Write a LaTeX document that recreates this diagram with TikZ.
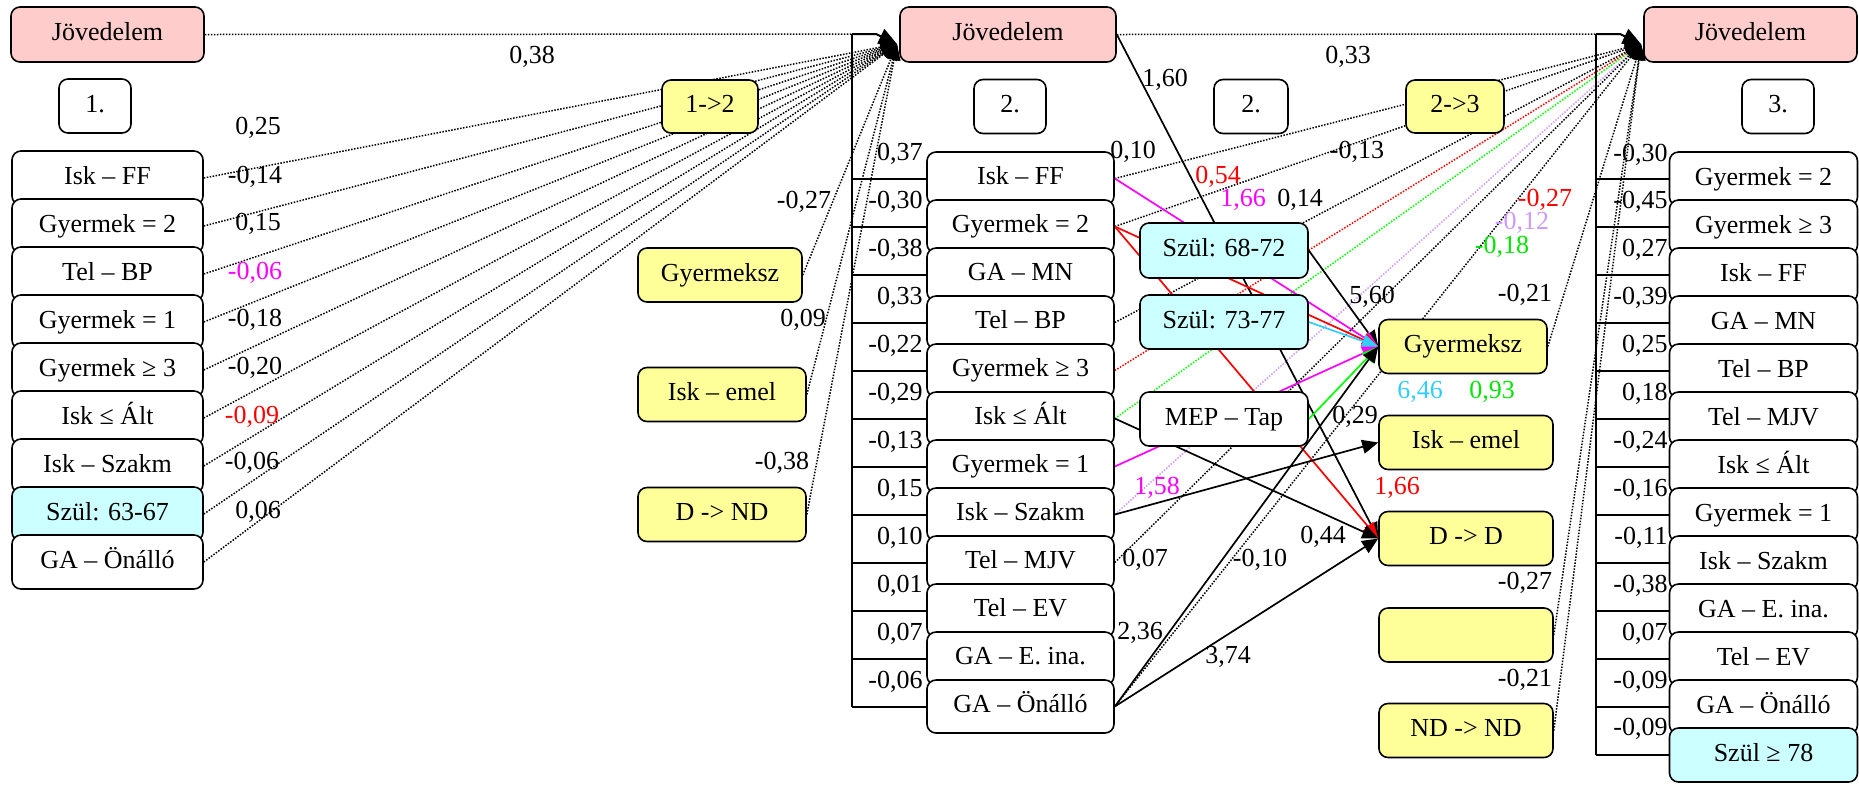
\documentclass[tikz,border=0pt]{standalone}
\usepackage{fontspec}
\setmainfont{Liberation Serif}
\usetikzlibrary{arrows.meta,backgrounds}

\definecolor{incfill}{HTML}{FFCCCC}
\definecolor{cohfill}{HTML}{CCFFFF}
\definecolor{trfill}{HTML}{FFFF99}
\definecolor{lav}{HTML}{CC99FF}
\definecolor{sky}{HTML}{33CCFF}
\definecolor{lime}{HTML}{00FF00}
\definecolor{limetext}{HTML}{00E600}
\definecolor{mag}{HTML}{FF00FF}

\begin{document}
\begin{tikzpicture}[x=0.5pt,y=-0.5pt,
  font=\fontsize{13}{15}\selectfont,
  box/.style={draw, line width=0.8pt, rounded corners=4.5pt, fill=white,
    inner sep=0pt, text height=9pt, text depth=2.8pt, minimum height=27pt},
  col1/.style={box, minimum width=95.5pt},
  col2/.style={box, minimum width=93.5pt, minimum height=26.5pt},
  col3/.style={box, minimum width=94pt},
  mid/.style={box, minimum width=84pt},
  income/.style={box, fill=incfill, minimum height=27.5pt},
  cohort/.style={fill=cohfill},
  trans/.style={fill=trfill},
  wave/.style={box, minimum width=36pt},
  lbl/.style={inner sep=0pt},
  brk/.style={line width=1pt},
  dot/.style={line width=0.75pt, dash pattern=on 0.75pt off 0.75pt},
  dtip/.style={-{Triangle[length=8pt,width=6.5pt]}},
  sol/.style={line width=0.85pt, -{Triangle[length=8pt,width=7pt]}},
]
\useasboundingbox (0,0) rectangle (1859,784);

% ---------- wave 1 ----------
\node[income, minimum width=96.5pt] (j1) at (107.5,34.5) {Jövedelem};
\node[wave] (w1) at (95,106) {1.};
\node[col1] (a1) at (107.5,178) {Isk – FF};
\node[col1] (a2) at (107.5,226) {Gyermek = 2};
\node[col1] (a3) at (107.5,274) {Tel – BP};
\node[col1] (a4) at (107.5,322) {Gyermek = 1};
\node[col1] (a5) at (107.5,370) {Gyermek ≥ 3};
\node[col1] (a6) at (107.5,418) {Isk ≤ Ált};
\node[col1] (a7) at (107.5,466) {Isk – Szakm};
\node[col1, cohort] (a8) at (107.5,514) {Szül: 63-67};
\node[col1] (a9) at (107.5,562) {GA – Önálló};

% ---------- transition 1->2 ----------
\node[box, trans, minimum width=48pt, minimum height=26.5pt] (t12) at (710,106.5) {1->2};
\node[box, trans, minimum width=82pt] (gyL) at (720,275) {Gyermeksz};
\node[box, trans, minimum width=84pt] (ieL) at (722,394.5) {Isk – emel};
\node[box, trans, minimum width=84pt] (dnd) at (722,514.5) {D -> ND};

% ---------- wave 2 ----------
\node[income, minimum width=108pt] (j2) at (1008,34.5) {Jövedelem};
\node[wave] (w2) at (1010,106.5) {2.};
\node[col2] (b1) at (1020.5,178.5) {Isk – FF};
\node[col2] (b2) at (1020.5,226.5) {Gyermek = 2};
\node[col2] (b3) at (1020.5,274.5) {GA – MN};
\node[col2] (b4) at (1020.5,322.5) {Tel – BP};
\node[col2] (b5) at (1020.5,370.5) {Gyermek ≥ 3};
\node[col2] (b6) at (1020.5,418.5) {Isk ≤ Ált};
\node[col2] (b7) at (1020.5,466.5) {Gyermek = 1};
\node[col2] (b8) at (1020.5,514.5) {Isk – Szakm};
\node[col2] (b9) at (1020.5,562.5) {Tel – MJV};
\node[col2] (b10) at (1020.5,610.5) {Tel – EV};
\node[col2] (b11) at (1020.5,658.5) {GA – E. ina.};
\node[col2] (b12) at (1020.5,706.5) {GA – Önálló};

% ---------- transition 2->3 ----------
\node[wave, minimum width=37pt] (w2b) at (1251,106.5) {2.};
\node[box, trans, minimum width=49pt, minimum height=26.5pt] (t23) at (1455,106.5) {2->3};
\node[mid, cohort, minimum height=27.5pt] (s1) at (1224,250.5) {Szül: 68-72};
\node[mid, cohort] (s2) at (1224,322) {Szül: 73-77};
\node[mid] (mep) at (1224,419) {MEP – Tap};
\node[mid, trans] (gyR) at (1463,346.5) {Gyermeksz};
\node[box, trans, minimum width=87pt] (ieR) at (1466,442.5) {Isk – emel};
\node[box, trans, minimum width=87pt] (dd) at (1466,538.5) {D -> D};
\node[box, trans, minimum width=87pt] (emp) at (1466,635) {};
\node[box, trans, minimum width=87pt] (ndnd) at (1466,730.5) {ND -> ND};

% ---------- wave 3 ----------
\node[income, minimum width=106.5pt] (j3) at (1750.5,34.5) {Jövedelem};
\node[wave] (w3) at (1778,106.5) {3.};
\node[col3] (c1) at (1763.5,179) {Gyermek = 2};
\node[col3] (c2b) at (1763.5,227) {Gyermek ≥ 3};
\node[col3] (c3b) at (1763.5,275) {Isk – FF};
\node[col3] (c4) at (1763.5,323) {GA – MN};
\node[col3] (c5) at (1763.5,371) {Tel – BP};
\node[col3] (c6) at (1763.5,419) {Tel – MJV};
\node[col3] (c7) at (1763.5,467) {Isk ≤ Ált};
\node[col3] (c8) at (1763.5,515) {Gyermek = 1};
\node[col3] (c9) at (1763.5,563) {Isk – Szakm};
\node[col3] (c10) at (1763.5,611) {GA – E. ina.};
\node[col3] (c11) at (1763.5,659) {Tel – EV};
\node[col3] (c12) at (1763.5,707) {GA – Önálló};
\node[col3, cohort] (c13) at (1763.5,755) {Szül ≥ 78};

% join points of the brackets
\coordinate (br2top) at (852,34);
\coordinate (br2bend) at (876,34);
\coordinate (in2) at (897,44);
\coordinate (br3top) at (1596,34);
\coordinate (br3bend) at (1620,34);
\coordinate (in3) at (1641,44);

\begin{pgfonlayer}{background}
  % effects on wave-2 income
  \draw[dot] (j1.east) -- (br2top);
  \foreach \n in {a1,a2,a3,a4,a5,a6,a7,a8,a9,gyL,ieL,dnd}
    \draw[dot,dtip] (\n.east) -- (in2);
  % wave-2 bracket
  \draw[brk] (br2top) -- (br2top |- b12.west);
  \foreach \k in {1,...,12}
    \draw[brk] (b\k.west) -- (b\k.west -| br2top);
  \draw[brk,-{Triangle[length=9pt,width=8pt]}] (br2top) -- (br2bend) -- (in2);

  % effects on wave-3 income (coloured ones first, black heads on top)
  \draw[dot] (j2.east) -- (br3top);
  \draw[dot,dtip,red] (b5.east) -- (in3);
  \draw[dot,dtip,lime] (b6.east) -- (in3);
  \draw[dot,dtip,lav] (b8.east) -- (in3);
  \foreach \n in {b1,b2,b4,b9,b12,gyR,emp,ndnd}
    \draw[dot,dtip] (\n.east) -- (in3);
  % wave-3 bracket
  \draw[brk] (br3top) -- (br3top |- c13.west);
  \foreach \n in {c1,c2b,c3b,c4,c5,c6,c7,c8,c9,c10,c11,c12,c13}
    \draw[brk] (\n.west) -- (\n.west -| br3top);
  \draw[brk,-{Triangle[length=9pt,width=8pt]}] (br3top) -- (br3bend) -- (in3);

  % transition effects
  \draw[sol] (j2.east) -- (dd.west);
  \draw[sol,red] (b2.east) -- (dd.west);
  \draw[sol] (b6.east) -- (dd.west);
  \draw[sol] (b12.east) -- (dd.west);
  \draw[sol] (b8.east) -- (ieR.west);
  \draw[sol] (s1.east) -- (gyR.west);
  \draw[sol,mag] (b1.east) -- (gyR.west);
  \draw[sol,red] (b2.east) -- (gyR.west);
  \draw[sol,sky] (s2.east) -- (gyR.west);
  \draw[sol,mag] (b7.east) -- (gyR.west);
  \draw[sol,lime] (mep.east) -- (gyR.west);
  \draw[sol] (b12.east) -- (gyR.west);
\end{pgfonlayer}

% ---------- coefficients, wave 1 -> 2 ----------
\node[lbl] (k01) at (532,57) {0,38};
\node[lbl] (k02) at (258,128) {0,25};
\node[lbl] (k03) at (255,177) {-0,14};
\node[lbl] (k04) at (258,224) {0,15};
\node[lbl, text=mag] (k05) at (255,273) {-0,06};
\node[lbl] (k06) at (255,320) {-0,18};
\node[lbl] (k07) at (255,368) {-0,20};
\node[lbl, text=red] (k08) at (252,417) {-0,09};
\node[lbl] (k09) at (252,463) {-0,06};
\node[lbl] (k10) at (258,512) {0,06};
\node[lbl] (k11) at (804,202) {-0,27};
\node[lbl] (k12) at (803,320) {0,09};
\node[lbl] (k13) at (782,463) {-0,38};

% ---------- coefficients at the wave-2 bracket ----------
\node[lbl, anchor=east] (m01) at (923,154) {0,37};
\node[lbl, anchor=east] (m02) at (923,202) {-0,30};
\node[lbl, anchor=east] (m03) at (923,250) {-0,38};
\node[lbl, anchor=east] (m04) at (923,298) {0,33};
\node[lbl, anchor=east] (m05) at (923,346) {-0,22};
\node[lbl, anchor=east] (m06) at (923,394) {-0,29};
\node[lbl, anchor=east] (m07) at (923,442) {-0,13};
\node[lbl, anchor=east] (m08) at (923,490) {0,15};
\node[lbl, anchor=east] (m09) at (923,538) {0,10};
\node[lbl, anchor=east] (m10) at (923,586) {0,01};
\node[lbl, anchor=east] (m11) at (923,634) {0,07};
\node[lbl, anchor=east] (m12) at (923,682) {-0,06};

% ---------- coefficients, wave 2 -> 3 ----------
\node[lbl] (r01) at (1348,57) {0,33};
\node[lbl] (r02) at (1165,80) {1,60};
\node[lbl] (r03) at (1133,152) {0,10};
\node[lbl] (r04) at (1357,152) {-0,13};
\node[lbl, text=red] (r05) at (1218,177) {0,54};
\node[lbl, text=mag] (r06) at (1243,200) {1,66};
\node[lbl] (r07) at (1300,200) {0,14};
\node[lbl, text=red] (r08) at (1545,200) {-0,27};
\node[lbl, text=lav] (r09) at (1522,223) {-0,12};
\node[lbl, text=limetext] (r10) at (1502,247) {-0,18};
\node[lbl] (r11) at (1525,295) {-0,21};
\node[lbl] (r12) at (1372,297) {5,60};
\node[lbl, text=sky] (r13) at (1420,392) {6,46};
\node[lbl, text=limetext] (r14) at (1492,392) {0,93};
\node[lbl] (r15) at (1355,417) {0,29};
\node[lbl, text=red] (r16) at (1397,488) {1,66};
\node[lbl, text=mag] (r17) at (1157,488) {1,58};
\node[lbl] (r18) at (1323,537) {0,44};
\node[lbl] (r19) at (1145,560) {0,07};
\node[lbl] (r20) at (1260,560) {-0,10};
\node[lbl] (r21) at (1525,583) {-0,27};
\node[lbl] (r22) at (1140,633) {2,36};
\node[lbl] (r23) at (1228,657) {3,74};
\node[lbl] (r24) at (1525,680) {-0,21};

% ---------- coefficients at the wave-3 bracket ----------
\node[lbl, anchor=east] (q01) at (1668,155) {-0,30};
\node[lbl, anchor=east] (q02) at (1668,202) {-0,45};
\node[lbl, anchor=east] (q03) at (1668,250) {0,27};
\node[lbl, anchor=east] (q04) at (1668,298) {-0,39};
\node[lbl, anchor=east] (q05) at (1668,346) {0,25};
\node[lbl, anchor=east] (q06) at (1668,394) {0,18};
\node[lbl, anchor=east] (q07) at (1668,442) {-0,24};
\node[lbl, anchor=east] (q08) at (1668,490) {-0,16};
\node[lbl, anchor=east] (q09) at (1668,538) {-0,11};
\node[lbl, anchor=east] (q10) at (1668,586) {-0,38};
\node[lbl, anchor=east] (q11) at (1668,634) {0,07};
\node[lbl, anchor=east] (q12) at (1668,682) {-0,09};
\node[lbl, anchor=east] (q13) at (1668,729) {-0,09};
\end{tikzpicture}
\end{document}
